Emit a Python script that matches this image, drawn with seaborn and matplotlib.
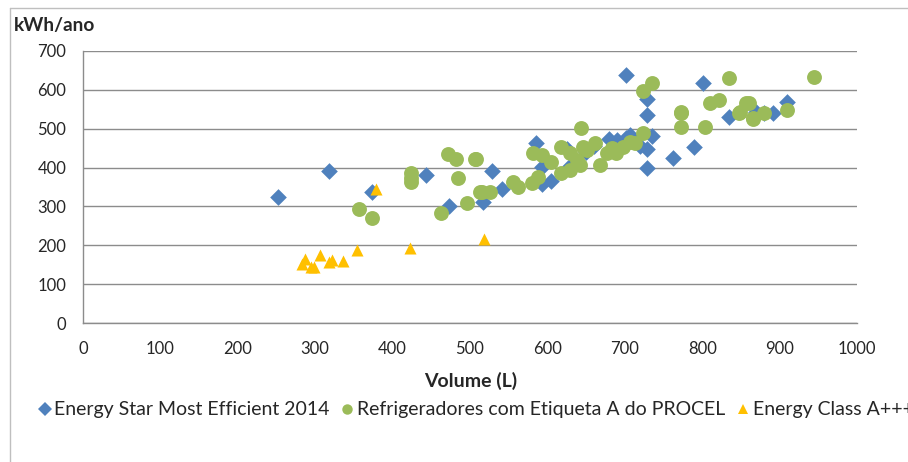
import matplotlib
matplotlib.use("Agg")
import matplotlib.pyplot as plt
from matplotlib.lines import Line2D
import seaborn as sns
import pandas as pd

# Energy Star Most Efficient 2014 models: volume (L) and consumption (kWh/ano)
estar_vol = [252, 318, 374, 443, 473, 517, 528, 541, 585, 593, 593, 605, 625, 629,
             650, 660, 679, 690, 702, 702, 707, 712, 720, 729, 729, 729, 729, 735,
             762, 789, 801, 834, 870, 880, 892, 909]
estar_kwh = [325, 391, 337, 380, 300, 311, 391, 346, 463, 402, 357, 365, 449, 405,
             440, 455, 473, 470, 638, 475, 484, 468, 455, 576, 535, 447, 398, 480,
             424, 453, 618, 531, 544, 540, 540, 570]

# Refrigeradores com Etiqueta A do PROCEL
procel_vol = [356, 374, 424, 424, 424, 463, 471, 482, 484, 496, 507, 508, 513, 515,
              526, 556, 562, 580, 582, 588, 593, 605, 618, 618, 629, 629, 638, 642,
              644, 646, 651, 661, 668, 677, 684, 689, 698, 707, 713, 724, 724, 735,
              773, 773, 773, 804, 810, 822, 834, 847, 849, 857, 860, 866, 866, 880,
              909, 944]
procel_kwh = [293, 269, 385, 372, 362, 282, 435, 422, 372, 308, 422, 421, 336, 338,
              338, 364, 351, 360, 437, 376, 432, 415, 454, 385, 394, 437, 419, 407,
              501, 454, 445, 462, 407, 437, 450, 437, 454, 467, 462, 488, 598, 617,
              540, 505, 544, 505, 565, 574, 630, 540, 544, 565, 565, 527, 524, 541,
              548, 634]

# Energy Class A+++
aplus_vol = [283, 287, 295, 299, 306, 318, 322, 336, 354, 378, 423, 518]
aplus_kwh = [152, 165, 143, 145, 174, 157, 161, 160, 188, 345, 194, 217]

series_names = ["Energy Star Most Efficient 2014",
                "Refrigeradores com Etiqueta A do PROCEL",
                "Energy Class A+++"]

df = pd.concat([
    pd.DataFrame({"vol": estar_vol, "kwh": estar_kwh, "serie": series_names[0]}),
    pd.DataFrame({"vol": procel_vol, "kwh": procel_kwh, "serie": series_names[1]}),
    pd.DataFrame({"vol": aplus_vol, "kwh": aplus_kwh, "serie": series_names[2]}),
], ignore_index=True)

palette = {series_names[0]: "#4F81BD",
           series_names[1]: "#9BBB59",
           series_names[2]: "#FFC000"}
markers = {series_names[0]: "D", series_names[1]: "o", series_names[2]: "^"}
sizes = {series_names[0]: 72, series_names[1]: 115, series_names[2]: 75}

sns.set_style("white")
plt.rcParams["font.family"] = ["Lato", "DejaVu Sans"]

fig = plt.figure(figsize=(9.08, 4.62), dpi=100)
ax = fig.add_axes([83 / 908, 139 / 462, 774 / 908, 272 / 462])

grid_col = "#8C8C8C"
text_col = "#262626"
for name in series_names:
    sub = df[df["serie"] == name]
    sns.scatterplot(data=sub, x="vol", y="kwh", color=palette[name],
                    marker=markers[name], s=sizes[name], linewidth=0,
                    ax=ax, legend=False, zorder=3)

ax.set_xlim(0, 1000)
ax.set_ylim(0, 700)
ax.set_xticks(range(0, 1001, 100))
ax.set_yticks(range(0, 701, 100))
ax.yaxis.grid(True, color=grid_col, linewidth=1)
ax.xaxis.grid(False)
ax.set_axisbelow(True)
for side in ("top", "right"):
    ax.spines[side].set_visible(False)
for side in ("left", "bottom"):
    ax.spines[side].set_color(grid_col)
    ax.spines[side].set_linewidth(1)
ax.tick_params(axis="both", which="both", direction="out", length=6,
               width=1, color=grid_col, labelsize=12, labelcolor=text_col)
ax.tick_params(axis="x", pad=7)
ax.tick_params(axis="y", pad=6)
ax.set_xlabel("")
ax.set_ylabel("")

fig.text(14 / 908, 1 - 25 / 462, "kWh/ano", fontsize=13.8, fontweight="bold",
         va="center", ha="left", color=text_col)
fig.text(471 / 908, 1 - 381 / 462, "Volume (L)", fontsize=14, fontweight="bold",
         va="center", ha="center", color=text_col)

handles = [Line2D([], [], linestyle="", marker=markers[n], color=palette[n],
                  markersize=7 if markers[n] != "o" else 7.5, markeredgewidth=0)
           for n in series_names]
fig.legend(handles, series_names, loc="center left",
           bbox_to_anchor=(36 / 908, 1 - 410 / 462), ncol=3, frameon=False,
           fontsize=14, handletextpad=0.05, columnspacing=0.45, handlelength=0.9,
           labelcolor=text_col, borderaxespad=0, borderpad=0)

# outer chart frame (left and top edges)
fig.add_artist(Line2D([10 / 908, 10 / 908], [0, 1 - 8 / 462],
                      transform=fig.transFigure, color="#BFBFBF", linewidth=1))
fig.add_artist(Line2D([10 / 908, 1], [1 - 8 / 462, 1 - 8 / 462],
                      transform=fig.transFigure, color="#BFBFBF", linewidth=1))

fig.savefig("out.png", dpi=100, facecolor="white")
